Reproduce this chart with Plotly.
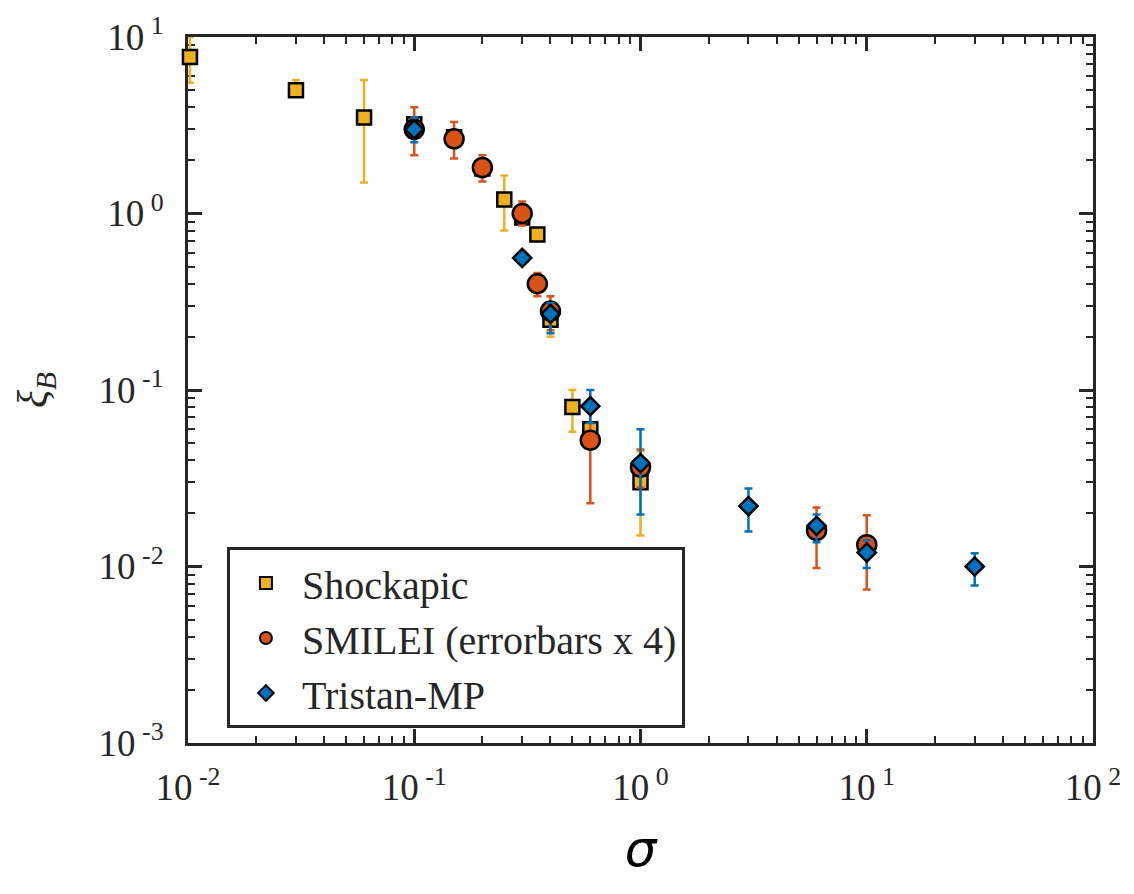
import plotly.graph_objects as go

# Shockapic
shock_x = [0.0102, 0.03, 0.06, 0.1, 0.15, 0.2, 0.25, 0.3, 0.35, 0.4, 0.5, 0.6, 1.0]
shock_y = [7.7, 5.0, 3.5, 3.2, 2.7, 1.8, 1.2, 0.95, 0.76, 0.25, 0.08, 0.06, 0.03]
shock_up = [10.0, 5.7, 5.7, 3.4, 2.9, 1.9, 1.64, 1.0, 0.8, 0.27, 0.1, 0.065, 0.045]
shock_lo = [5.5, 4.6, 1.5, 3.0, 2.5, 1.7, 0.8, 0.9, 0.72, 0.2, 0.058, 0.055, 0.015]

# SMILEI (errorbars x 4)
smilei_x = [0.1, 0.15, 0.2, 0.3, 0.35, 0.4, 0.6, 1.0, 6.0, 10.0]
smilei_y = [3.0, 2.65, 1.82, 1.0, 0.4, 0.28, 0.052, 0.0365, 0.016, 0.0133]
smilei_up = [4.0, 3.3, 2.14, 1.17, 0.46, 0.34, 0.075, 0.046, 0.0216, 0.0195]
smilei_lo = [2.14, 2.05, 1.52, 0.855, 0.34, 0.218, 0.0228, 0.028, 0.0098, 0.0074]

# Tristan-MP
tristan_x = [0.1, 0.3, 0.4, 0.6, 1.0, 3.0, 6.0, 10.0, 30.0]
tristan_y = [3.0, 0.56, 0.27, 0.081, 0.0385, 0.022, 0.017, 0.012, 0.01]
tristan_up = [3.5, 0.58, 0.31, 0.1, 0.06, 0.0277, 0.0197, 0.0141, 0.0119]
tristan_lo = [2.53, 0.54, 0.21, 0.065, 0.0197, 0.0158, 0.0137, 0.0098, 0.0078]

xtick_vals = [0.01, 0.1, 1, 10, 100]
xtick_text = ["10<sup> -2</sup>", "10<sup> -1</sup>", "10<sup> 0</sup>", "10<sup> 1</sup>", "10<sup> 2</sup>"]
ytick_vals = [0.001, 0.01, 0.1, 1, 10]
ytick_text = ["10<sup> -3</sup>", "10<sup> -2</sup>", "10<sup> -1</sup>", "10<sup> 0</sup>", "10<sup> 1</sup>"]

YELLOW = "#EDB120"
ORANGE = "#D95319"
BLUE = "#0072BD"
AX = "#262626"


def minor_vals(lo_exp, hi_exp):
    out = []
    for e in range(lo_exp, hi_exp):
        for m in range(2, 10):
            out.append(m * 10.0 ** e)
    return out


def err(y, up, lo):
    return [u - v for u, v in zip(up, y)], [v - l for v, l in zip(y, lo)]


fig = go.Figure()
for name, xs, ys, up, lo, col, sym, size in [
    ("Shockapic", shock_x, shock_y, shock_up, shock_lo, YELLOW, "square", 14),
    ("SMILEI (errorbars x 4)", smilei_x, smilei_y, smilei_up, smilei_lo, ORANGE, "circle", 19),
    ("Tristan-MP", tristan_x, tristan_y, tristan_up, tristan_lo, BLUE, "diamond", 14),
]:
    a, am = err(ys, up, lo)
    fig.add_trace(go.Scatter(
        x=xs, y=ys, mode="markers", name=name, cliponaxis=False,
        marker=dict(symbol=sym, size=size, color=col, line=dict(color="black", width=2.5)),
        error_y=dict(type="data", symmetric=False, array=a, arrayminus=am,
                     color=col, thickness=2.5, width=4),
    ))

axis_common = dict(
    type="log", showline=True, linecolor=AX, linewidth=3, mirror="allticks",
    ticks="inside", ticklen=14, tickwidth=2.5, tickcolor=AX,
    showgrid=False, zeroline=False, layer="below traces",
    tickfont=dict(family="Liberation Serif", size=37, color=AX),
)

fig.update_xaxes(**axis_common, range=[-2, 2], tickvals=xtick_vals, ticktext=xtick_text,
                 ticklabelstandoff=10,
                 minor=dict(ticks="inside", ticklen=7, tickwidth=2, tickcolor=AX, showgrid=False,
                            tickvals=minor_vals(-2, 2)),
                 title=dict(text="<i>σ</i>", font=dict(family="DejaVu Sans", size=50, color="black"), standoff=24))
fig.update_yaxes(**axis_common, range=[-3, 1], tickvals=ytick_vals, ticktext=ytick_text,
                 ticklabelstandoff=14,
                 minor=dict(ticks="inside", ticklen=7, tickwidth=2, tickcolor=AX, showgrid=False,
                            tickvals=minor_vals(-3, 1)),
                 title=dict(text="<i>ξ</i><sub><i>B</i></sub>", font=dict(family="Liberation Serif", size=42, color=AX), standoff=38))

fig.update_layout(
    width=1134, height=894,
    margin=dict(l=188, r=41, t=37, b=151),
    paper_bgcolor="white", plot_bgcolor="white",
    legend=dict(x=0.043, y=0.277, xanchor="left", yanchor="top",
                bgcolor="white", bordercolor=AX, borderwidth=3,
                font=dict(family="Liberation Serif", size=40, color=AX),
                itemsizing="constant", itemwidth=62, tracegroupgap=0),
    showlegend=True,
)

fig.write_html("out.html")
